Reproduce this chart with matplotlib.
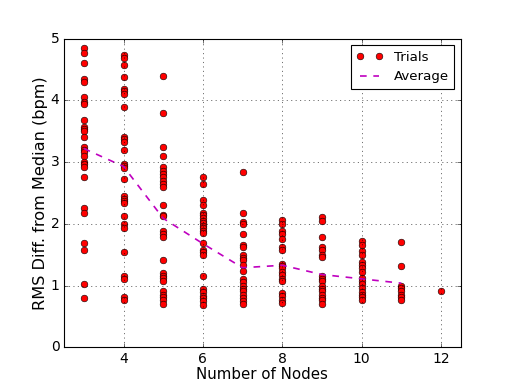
import matplotlib
matplotlib.use("Agg")
import matplotlib.pyplot as plt

plt.style.use("classic")

nodes = [3, 4, 5, 6, 7, 8, 9, 10, 11, 12]

trials_3 = [4.85, 4.77, 4.61, 4.34, 4.30, 4.05, 3.98, 3.94, 3.69, 3.57, 3.54, 3.50, 3.40,
            3.24, 3.20, 3.17, 3.10, 3.01, 2.97, 2.92, 2.76, 2.26, 2.18, 1.69, 1.58, 1.03, 0.80]
trials_4 = [4.73, 4.69, 4.57, 4.38, 4.19, 4.15, 4.11, 3.90, 3.40, 3.37, 3.32, 3.19, 2.97,
            2.93, 2.90, 2.73, 2.45, 2.40, 2.37, 2.33, 2.12, 1.99, 1.94, 1.54, 1.15, 1.11, 0.82, 0.77]
trials_5 = [4.39, 3.80, 3.25, 3.10, 2.92, 2.86, 2.81, 2.76, 2.70, 2.65, 2.60, 2.31, 2.15,
            2.12, 1.88, 1.84, 1.78, 1.41, 1.20, 1.16, 1.12, 1.08, 0.91, 0.85, 0.81, 0.76, 0.70]
trials_6 = [2.76, 2.64, 2.38, 2.30, 2.18, 2.14, 2.10, 2.05, 2.01, 1.97, 1.93, 1.89, 1.85,
            1.69, 1.58, 1.54, 1.50, 1.15, 0.95, 0.90, 0.84, 0.80, 0.75, 0.68]
trials_7 = [2.84, 2.17, 2.03, 1.99, 1.84, 1.66, 1.62, 1.49, 1.45, 1.41, 1.34, 1.23, 1.11,
            1.06, 1.00, 0.95, 0.91, 0.85, 0.80, 0.75, 0.70]
trials_8 = [2.06, 2.00, 1.88, 1.84, 1.76, 1.62, 1.58, 1.35, 1.31, 1.28, 1.22, 1.18, 1.11,
            1.07, 0.88, 0.83, 0.77, 0.72]
trials_9 = [2.11, 2.04, 1.78, 1.62, 1.58, 1.50, 1.46, 1.15, 1.11, 1.07, 1.00, 0.95, 0.91,
            0.85, 0.80, 0.76, 0.70]
trials_10 = [1.72, 1.65, 1.56, 1.50, 1.38, 1.34, 1.29, 1.22, 1.12, 1.07, 1.02, 0.96, 0.90,
             0.85, 0.81, 0.76]
trials_11 = [1.71, 1.31, 1.00, 0.96, 0.91, 0.85, 0.81, 0.76]
trials_12 = [0.91]

trials = [trials_3, trials_4, trials_5, trials_6, trials_7, trials_8, trials_9,
          trials_10, trials_11, trials_12]

avg_nodes = [3, 4, 5, 6, 7, 8, 9, 10, 11]
average = [3.22, 2.93, 2.09, 1.68, 1.29, 1.33, 1.18, 1.11, 1.04]

fig = plt.figure(figsize=(6.4, 4.825), dpi=80)
ax = fig.add_axes([0.125, 0.1, 0.775, 0.8])

xs, ys = [], []
for n, vals in zip(nodes, trials):
    xs.extend([n] * len(vals))
    ys.extend(vals)

ax.plot(xs, ys, "ro", markersize=6, markeredgecolor="black", label="Trials")
ax.plot(avg_nodes, average, "m--", linewidth=1.5, label="Average")

ax.set_xlim(2.5, 12.5)
ax.set_ylim(0, 5)
ax.set_xticks([4, 6, 8, 10, 12])
ax.set_yticks([0, 1, 2, 3, 4, 5])
ax.tick_params(labelsize=12.5)
ax.grid(True)
ax.set_xlabel("Number of Nodes", fontsize=13.5, labelpad=1)
ax.set_ylabel("RMS Diff. from Median (bpm)", fontsize=14.5, labelpad=2)
leg = ax.legend(loc="upper right", numpoints=2, fontsize=12)

fig.savefig("out.png", dpi=80)
